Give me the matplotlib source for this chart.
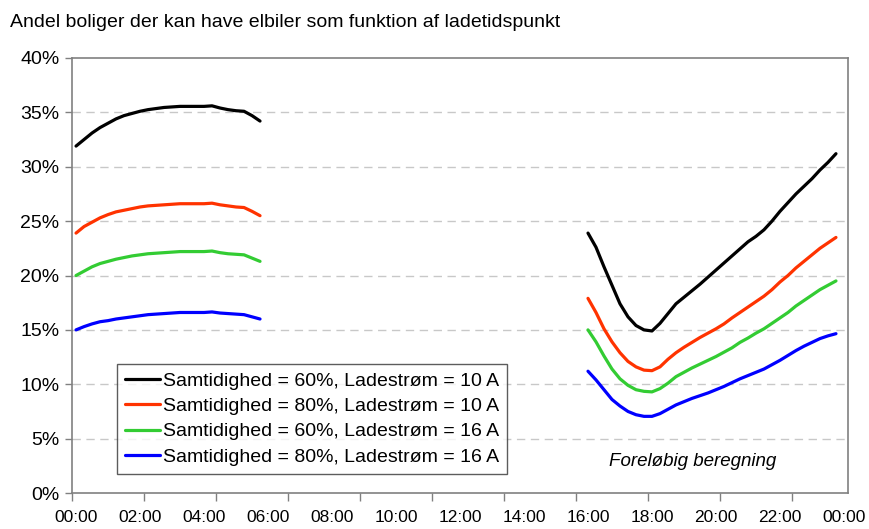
import numpy as np
import matplotlib.pyplot as plt
from matplotlib.ticker import FixedLocator, FuncFormatter

plt.rcParams['font.family'] = ['Liberation Sans', 'DejaVu Sans']

# quarter-hour slots (0 = 00:00, 96 = 24:00)
morning_slots = list(range(0, 24))     # 00:00 - 05:45
evening_slots = list(range(64, 96))    # 16:00 - 23:45

labels = [
    'Samtidighed = 60%, Ladestrøm = 10 A',
    'Samtidighed = 80%, Ladestrøm = 10 A',
    'Samtidighed = 60%, Ladestrøm = 16 A',
    'Samtidighed = 80%, Ladestrøm = 16 A',
]
colors = ['#000000', '#FF3300', '#33CC33', '#0000FF']

# values in percent
morning = [
    [31.9, 32.5, 33.1, 33.6, 34.0, 34.4, 34.7, 34.9, 35.1, 35.25, 35.35, 35.45,
     35.5, 35.55, 35.55, 35.55, 35.55, 35.6, 35.4, 35.25, 35.15, 35.1, 34.7, 34.2],
    [23.9, 24.5, 24.9, 25.3, 25.6, 25.85, 26.0, 26.15, 26.3, 26.4, 26.45, 26.5,
     26.55, 26.6, 26.6, 26.6, 26.6, 26.65, 26.5, 26.4, 26.3, 26.25, 25.9, 25.5],
    [20.0, 20.4, 20.8, 21.1, 21.3, 21.5, 21.65, 21.8, 21.9, 22.0, 22.05, 22.1,
     22.15, 22.2, 22.2, 22.2, 22.2, 22.25, 22.1, 22.0, 21.95, 21.9, 21.6, 21.3],
    [15.0, 15.3, 15.55, 15.75, 15.85, 16.0, 16.1, 16.2, 16.3, 16.4, 16.45, 16.5,
     16.55, 16.6, 16.6, 16.6, 16.6, 16.65, 16.55, 16.5, 16.45, 16.4, 16.2, 16.0],
]
evening = [
    [23.9, 22.6, 20.8, 19.1, 17.4, 16.2, 15.4, 15.0, 14.9, 15.6, 16.5, 17.4,
     18.0, 18.6, 19.2, 19.85, 20.5, 21.15, 21.8, 22.45, 23.1, 23.6, 24.2, 25.0,
     25.9, 26.7, 27.5, 28.2, 28.9, 29.7, 30.4, 31.2],
    [17.9, 16.6, 15.1, 13.9, 12.9, 12.1, 11.6, 11.3, 11.25, 11.6, 12.3, 12.9,
     13.4, 13.85, 14.3, 14.7, 15.1, 15.55, 16.1, 16.6, 17.1, 17.6, 18.1, 18.7,
     19.4, 20.0, 20.7, 21.3, 21.9, 22.5, 23.0, 23.5],
    [15.0, 13.9, 12.6, 11.4, 10.5, 9.9, 9.5, 9.35, 9.3, 9.6, 10.1, 10.7,
     11.1, 11.5, 11.85, 12.2, 12.55, 12.95, 13.35, 13.85, 14.25, 14.7, 15.1, 15.6,
     16.1, 16.6, 17.2, 17.7, 18.2, 18.7, 19.1, 19.5],
    [11.2, 10.4, 9.5, 8.6, 8.0, 7.5, 7.2, 7.05, 7.05, 7.3, 7.7, 8.1,
     8.4, 8.7, 8.95, 9.2, 9.5, 9.8, 10.15, 10.5, 10.8, 11.1, 11.4, 11.8,
     12.2, 12.65, 13.1, 13.5, 13.85, 14.2, 14.45, 14.65],
]

fig = plt.figure(figsize=(8.69, 5.29), dpi=100)
ax = fig.add_axes([0.0829, 0.068, 0.8929, 0.8224])

for m, e, c, lab in zip(morning, evening, colors, labels):
    ax.plot(morning_slots, m, color=c, lw=2.3, label=lab, solid_capstyle='round')
    ax.plot(evening_slots, e, color=c, lw=2.3, solid_capstyle='round')

ax.set_xlim(-0.5, 96.5)
ax.set_ylim(0, 40)

# y axis
ax.set_yticks(np.arange(0, 41, 5))
ax.yaxis.set_major_formatter(FuncFormatter(lambda v, p: f'{int(v)}%'))
ax.tick_params(axis='y', length=5, width=1, color='#808080', labelsize=14, pad=4)
for yv in range(5, 40, 5):
    ax.axhline(yv, color='#C8C8C8', lw=1, ls=(0, (6, 4)), zorder=0)

# x axis: labels every 2 h, tick marks every 9 slots (Excel style)
ax.xaxis.set_major_locator(FixedLocator(list(range(0, 97, 8))))
ax.xaxis.set_major_formatter(FuncFormatter(lambda v, p: f'{(int(v) // 4) % 24:02d}:00'))
ax.xaxis.set_minor_locator(FixedLocator([-0.5 + 9 * k for k in range(11)]))
ax.tick_params(axis='x', which='major', length=0, labelsize=12.5, pad=12)
ax.tick_params(axis='x', which='minor', length=6, width=1, color='#808080')

for s in ax.spines.values():
    s.set_color('#808080')
    s.set_linewidth(1.2)

leg = ax.legend(loc='upper left', bbox_to_anchor=(0.058, 0.296), fontsize=14,
                frameon=True, fancybox=False, handlelength=1.8, handletextpad=0.15,
                borderpad=0.4, labelspacing=0.4, borderaxespad=0)
leg.get_frame().set_edgecolor('#333333')
leg.get_frame().set_linewidth(1)

ax.text(0.8, 0.072, 'Foreløbig beregning', transform=ax.transAxes,
        fontsize=13.5, style='italic', ha='center', va='center')

fig.text(0.0115, 0.958, 'Andel boliger der kan have elbiler som funktion af ladetidspunkt',
         fontsize=14, ha='left', va='center')

fig.savefig('out.png', dpi=100)
